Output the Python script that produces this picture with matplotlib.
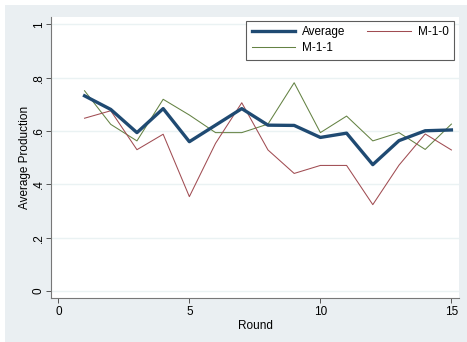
import matplotlib
matplotlib.use("Agg")
import matplotlib.pyplot as plt
from matplotlib.patches import Rectangle

plt.rcParams['font.family'] = ['Liberation Sans', 'DejaVu Sans']

rounds = list(range(1, 16))
average = [0.732, 0.681, 0.594, 0.684, 0.560, 0.622, 0.684, 0.622, 0.621, 0.576, 0.592, 0.474, 0.564, 0.601, 0.604]
m10 = [0.648, 0.676, 0.530, 0.588, 0.354, 0.554, 0.706, 0.529, 0.441, 0.471, 0.471, 0.324, 0.472, 0.589, 0.529]
m11 = [0.751, 0.625, 0.563, 0.719, 0.660, 0.594, 0.594, 0.626, 0.781, 0.594, 0.656, 0.563, 0.594, 0.531, 0.626]
yticks = [0, 0.2, 0.4, 0.6, 0.8, 1.0]
ytick_labels = ["0", ".2", ".4", ".6", ".8", "1"]
xticks = [0, 5, 10, 15]

W, H = 467, 342
fig = plt.figure(figsize=(W/100, H/100), dpi=100)
fig.patch.set_facecolor("white")
fig.patches.append(Rectangle((5/W, 0), (467-5)/W, (342-5)/H, transform=fig.transFigure,
                             facecolor="#eaeff2", edgecolor="none", zorder=-10))

ax = fig.add_axes([51/W, 1-298/H, (459-51)/W, (298-17)/H])
ax.set_facecolor("white")

ax.plot(rounds, average, color="#1f4a72", lw=2.4, label="Average", zorder=3)
ax.plot(rounds, m11, color="#648243", lw=0.75, label="M-1-1", zorder=2)
ax.plot(rounds, m10, color="#a04c52", lw=0.75, label="M-1-0", zorder=2)

ax.set_xlim(-0.28, 15.29)
ax.set_ylim(-0.026, 1.0275)
ax.set_yticks(yticks)
ax.set_yticklabels(ytick_labels, rotation=90, va="center")
ax.set_xticks(xticks)
ax.grid(axis="y", color="#eaf2f3", lw=1.0)
ax.set_axisbelow(True)
for s in ["top", "right"]:
    ax.spines[s].set_visible(False)
for s in ["left", "bottom"]:
    ax.spines[s].set_color("#777777")
    ax.spines[s].set_linewidth(0.8)
ax.tick_params(direction="out", length=3.6, width=0.7, color="#555555", labelsize=8.5)
ax.tick_params(axis="y", pad=1)
ax.tick_params(axis="x", pad=2.5)
ax.set_xlabel("Round", fontsize=8.5, labelpad=1)
ax.set_ylabel("Average Production", fontsize=8.5, labelpad=1)

leg = ax.legend(ncol=2, loc="upper right", bbox_to_anchor=((454-51)/(459-51), 1-(21-17)/(298-17)),
                borderaxespad=0, fontsize=8.5, frameon=True, fancybox=False, handlelength=3.7,
                handletextpad=0.6, columnspacing=1.8, borderpad=0.45, labelspacing=0.35)
leg.get_frame().set_edgecolor("#333333")
leg.get_frame().set_linewidth(0.8)

fig.savefig("out.png", dpi=100)
